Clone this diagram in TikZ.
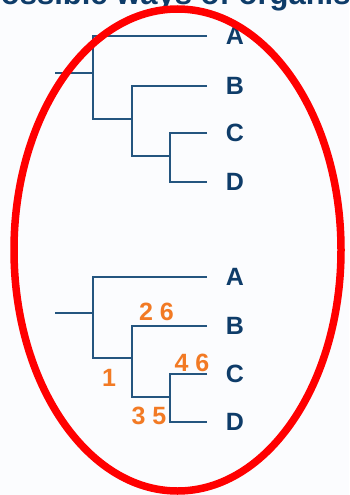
\documentclass[tikz,border=0pt]{standalone}
\usepackage{fontspec}
\setmainfont{Liberation Sans}
\definecolor{treeblue}{HTML}{24557F}
\definecolor{letterblue}{HTML}{0E3C69}
\definecolor{numorange}{HTML}{F27A24}
\definecolor{bg}{HTML}{FBFCFE}
\begin{document}
\begin{tikzpicture}[x=1pt,y=-1pt,
  branch/.style={draw=treeblue,line width=2.5pt},
  leaf/.style={font=\fontsize{25}{25}\selectfont\bfseries,text=letterblue,inner sep=0pt},
  change/.style={font=\fontsize{25}{25}\selectfont\bfseries,text=numorange,inner sep=0pt},
  ring/.style={draw=red,line width=7.5pt}]
\useasboundingbox (0,0) rectangle (349,495);
\fill[bg] (0,0) rectangle (349,495);
% clipped title
\begin{scope}
\clip (0,0) rectangle (349,495);
\node[anchor=base west,inner sep=0pt,text=letterblue,font=\fontsize{31}{31}\selectfont\bfseries] (title) at (-20,5) {Possible ways of organising};
\end{scope}
% ---------- top tree ----------
\coordinate (tr) at (55,73);
\coordinate (t1) at (93,73);
\coordinate (t1a) at (93,36);
\coordinate (t1b) at (93,119);
\coordinate (t2) at (132,119);
\coordinate (t2a) at (132,86);
\coordinate (t2b) at (132,156);
\coordinate (t3) at (170,156);
\coordinate (t3a) at (170,133);
\coordinate (t3b) at (170,182);
\coordinate (tA) at (207,36);
\coordinate (tB) at (207,86);
\coordinate (tC) at (207,133);
\coordinate (tD) at (207,182);
\node[leaf] (ltA) at (235,36) {A};
\node[leaf] (ltB) at (235,86) {B};
\node[leaf] (ltC) at (235,133) {C};
\node[leaf] (ltD) at (235,182) {D};
\path[branch] (tr) -- (t1);
\path[branch] (tA) -- (t1a) -- (t1b) -- (t2);
\path[branch] (tB) -- (t2a) -- (t2b) -- (t3);
\path[branch] (tC) -- (t3a) -- (t3b) -- (tD);
% ---------- bottom tree ----------
\coordinate (br) at (55,313);
\coordinate (b1) at (93,313);
\coordinate (b1a) at (93,277);
\coordinate (b1b) at (93,358);
\coordinate (b2) at (132,358);
\coordinate (b2a) at (132,326);
\coordinate (b2b) at (132,397);
\coordinate (b3) at (170,397);
\coordinate (b3a) at (170,374);
\coordinate (b3b) at (170,422);
\coordinate (bA) at (207,277);
\coordinate (bB) at (207,326);
\coordinate (bC) at (207,374);
\coordinate (bD) at (207,422);
\node[leaf] (lbA) at (235,277) {A};
\node[leaf] (lbB) at (235,326) {B};
\node[leaf] (lbC) at (235,374) {C};
\node[leaf] (lbD) at (235,422) {D};
\path[branch] (br) -- (b1);
\path[branch] (bA) -- (b1a) -- (b1b) -- (b2);
\path[branch] (bB) -- (b2a) -- (b2b) -- (b3);
\path[branch] (bC) -- (b3a) -- (b3b) -- (bD);
\node[change] (c26) at (156.5,312) {2 6};
\node[change] (c46) at (192,363) {4 6};
\node[change] (c1) at (109,378) {1};
\node[change] (c35) at (149,416) {3 5};
% ---------- ring ----------
\draw[ring] (177.5,250) ellipse (163.5 and 241);
\end{tikzpicture}
\end{document}
